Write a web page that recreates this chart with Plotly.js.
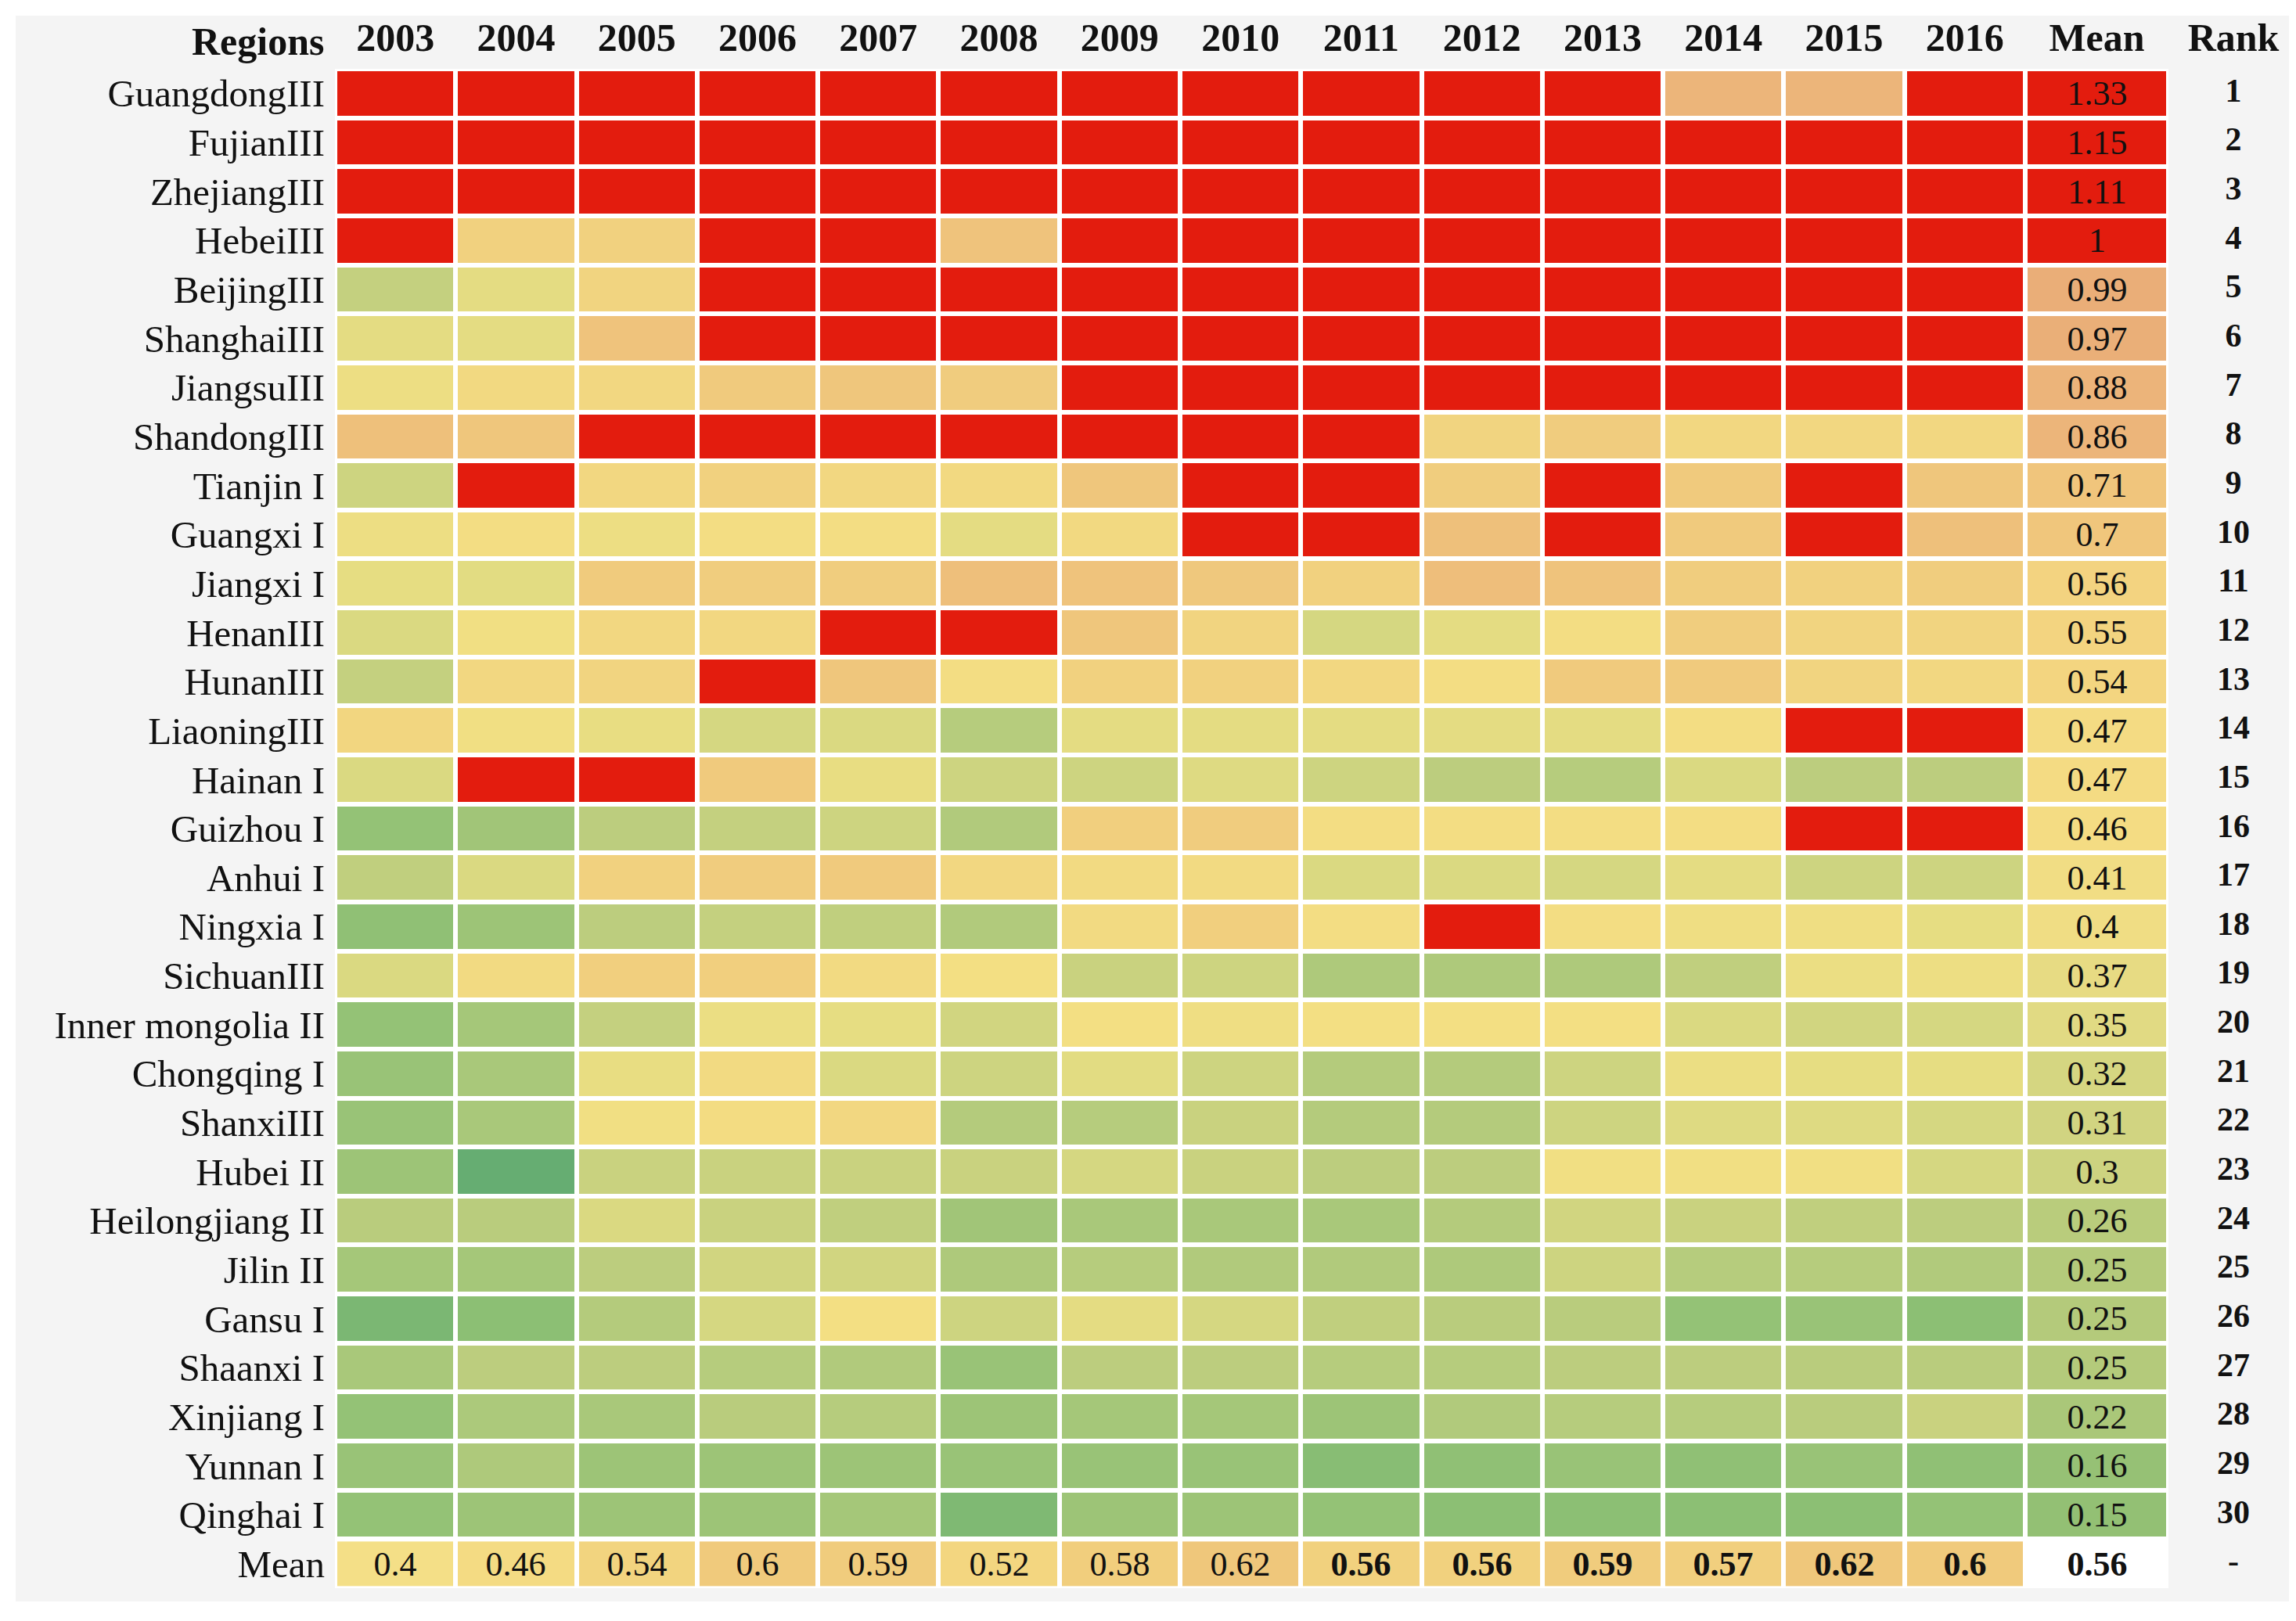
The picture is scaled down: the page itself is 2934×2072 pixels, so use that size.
<!DOCTYPE html>
<html>
<head>
<meta charset="utf-8">
<script src="https://cdn.plot.ly/plotly-3.0.1.min.js"></script>
<style>html,body{margin:0;padding:0;background:#fff;}#chart{width:2934px;height:2072px;}</style>
</head>
<body>
<div id="chart"></div>
<script>
const years = ['2003','2004','2005','2006','2007','2008','2009','2010','2011','2012','2013','2014','2015','2016'];
const regions = ['GuangdongIII','FujianIII','ZhejiangIII','HebeiIII','BeijingIII','ShanghaiIII','JiangsuIII','ShandongIII',
  'Tianjin I','Guangxi I','Jiangxi I','HenanIII','HunanIII','LiaoningIII','Hainan I','Guizhou I','Anhui I','Ningxia I',
  'SichuanIII','Inner mongolia II','Chongqing I','ShanxiIII','Hubei II','Heilongjiang II','Jilin II','Gansu I',
  'Shaanxi I','Xinjiang I','Yunnan I','Qinghai I'];
// yearly values per region (red cells are > 1)
const scores = [
  [1.38,1.41,1.45,1.47,1.44,1.40,1.46,1.49,1.43,1.42,1.41,0.74,0.74,1.38],
  [1.08,1.12,1.10,1.14,1.17,1.13,1.19,1.16,1.18,1.15,1.17,1.14,1.19,1.18],
  [1.06,1.08,1.07,1.10,1.12,1.09,1.13,1.11,1.14,1.12,1.13,1.11,1.14,1.14],
  [1.08,0.53,0.53,1.10,1.12,0.64,1.11,1.13,1.12,1.14,1.12,1.13,1.11,1.14],
  [0.29,0.37,0.51,1.10,1.12,1.13,1.15,1.16,1.15,1.17,1.16,1.18,1.17,1.20],
  [0.37,0.37,0.64,1.06,1.08,1.09,1.10,1.11,1.12,1.11,1.12,1.13,1.14,1.14],
  [0.41,0.48,0.49,0.59,0.62,0.57,1.10,1.12,1.14,1.15,1.16,1.15,1.17,1.17],
  [0.66,0.62,1.12,1.15,1.17,1.18,1.19,1.20,1.20,0.51,0.57,0.49,0.49,0.49],
  [0.31,1.03,0.49,0.53,0.49,0.48,0.62,1.04,1.05,0.56,1.06,0.59,1.07,0.62],
  [0.41,0.45,0.41,0.45,0.45,0.37,0.48,1.18,1.21,0.66,1.23,0.59,1.25,0.66],
  [0.38,0.36,0.58,0.56,0.56,0.67,0.64,0.60,0.53,0.68,0.64,0.56,0.53,0.56],
  [0.34,0.43,0.49,0.49,1.03,1.06,0.62,0.51,0.33,0.37,0.45,0.56,0.51,0.51],
  [0.29,0.49,0.51,1.02,0.62,0.45,0.53,0.53,0.49,0.45,0.59,0.59,0.51,0.49],
  [0.50,0.43,0.39,0.33,0.34,0.25,0.37,0.37,0.37,0.37,0.37,0.45,1.01,1.03],
  [0.34,1.27,1.31,0.59,0.39,0.31,0.31,0.35,0.31,0.27,0.25,0.34,0.27,0.27],
  [0.15,0.18,0.27,0.29,0.31,0.23,0.55,0.57,0.45,0.45,0.45,0.45,1.03,1.06],
  [0.28,0.34,0.53,0.57,0.59,0.49,0.47,0.47,0.34,0.34,0.33,0.37,0.31,0.31],
  [0.14,0.17,0.27,0.29,0.28,0.23,0.47,0.55,0.45,1.08,0.45,0.42,0.42,0.38],
  [0.34,0.47,0.55,0.55,0.47,0.44,0.30,0.31,0.22,0.22,0.22,0.28,0.40,0.41],
  [0.15,0.19,0.29,0.40,0.38,0.32,0.44,0.42,0.44,0.44,0.44,0.34,0.32,0.33],
  [0.16,0.20,0.39,0.47,0.34,0.31,0.36,0.31,0.24,0.24,0.31,0.40,0.38,0.38],
  [0.16,0.20,0.43,0.46,0.49,0.24,0.25,0.30,0.24,0.24,0.31,0.35,0.35,0.33],
  [0.17,0.04,0.30,0.30,0.30,0.30,0.33,0.30,0.27,0.27,0.43,0.43,0.43,0.33],
  [0.26,0.26,0.34,0.30,0.28,0.18,0.20,0.20,0.20,0.24,0.32,0.30,0.28,0.27],
  [0.19,0.19,0.27,0.32,0.32,0.22,0.25,0.23,0.23,0.22,0.31,0.25,0.25,0.23],
  [0.09,0.13,0.24,0.33,0.44,0.31,0.37,0.33,0.28,0.26,0.26,0.15,0.16,0.13],
  [0.20,0.27,0.27,0.25,0.23,0.16,0.27,0.27,0.25,0.25,0.27,0.27,0.26,0.26],
  [0.15,0.21,0.20,0.26,0.25,0.17,0.19,0.19,0.17,0.23,0.25,0.25,0.26,0.30],
  [0.16,0.22,0.17,0.17,0.17,0.16,0.16,0.16,0.12,0.14,0.16,0.14,0.16,0.14],
  [0.15,0.17,0.17,0.17,0.19,0.10,0.17,0.17,0.15,0.13,0.13,0.13,0.13,0.15]
];
const regionMeans = [1.33,1.15,1.11,1,0.99,0.97,0.88,0.86,0.71,0.7,0.56,0.55,0.54,0.47,0.47,0.46,0.41,0.4,0.37,0.35,0.32,0.31,0.3,0.26,0.25,0.25,0.25,0.22,0.16,0.15];
const ranks = ['1','2','3','4','5','6','7','8','9','10','11','12','13','14','15','16','17','18','19','20','21','22','23','24','25','26','27','28','29','30'];
const yearMeans = [0.4,0.46,0.54,0.6,0.59,0.52,0.58,0.62,0.56,0.56,0.59,0.57,0.62,0.6];
const overallMean = 0.56;
const overallRank = '-';
const meanLabel = 'Mean';
const rankLabel = 'Rank';
const headerLabel = 'Regions';

const W = 2934, H = 2072;
const FONT = 'Liberation Serif, Times New Roman, serif';
const px = v => v / W;
const py = v => 1 - v / H;

const gridLeft = 428, gridRight = 2588, meanRight = 2771, gridTop = 88, gridBottom = 2030;
const rowH = (gridBottom - gridTop) / (regions.length + 1);
const regionsBottom = gridBottom - rowH;

const mainScale = [
  [0, '#5eaa6c'], [0.025, '#66ad72'], [0.081, '#8cbf74'], [0.125, '#a9c87a'],
  [0.169, '#bccd7e'], [0.225, '#e2dc82'], [0.275, '#f3df83'], [0.331, '#f1d17f'],
  [0.3875, '#efc67c'], [0.4625, '#ecb57a'], [0.6249, '#e9ad76'], [0.6251, '#e31c0e'], [1, '#e31c0e']
];
const meanColScale = [
  [0, '#8cbd73'], [0.107, '#93c074'], [0.1786, '#b4ca7b'], [0.214, '#cdd380'],
  [0.25, '#e1da83'], [0.2857, '#f0dd84'], [0.3286, '#f4dc83'], [0.393, '#f3d480'],
  [0.5, '#f0c67c'], [0.614, '#ecb57a'], [0.7106, '#eaae78'], [0.7108, '#e31c0e'], [1, '#e31c0e']
];
const meanRowScale = [[0, '#f4df87'], [0.27, '#f4db83'], [0.64, '#f2d47f'], [1, '#efc77b']];

const cellFont = {family: FONT, size: 44, color: '#111'};
const rankFont = {family: FONT, size: 42, color: '#111', weight: 'bold'};

const traces = [
  {
    type: 'heatmap', x: years, y: regions, z: scores,
    zmin: 0, zmax: 1.6, colorscale: mainScale, showscale: false,
    xgap: 6, ygap: 6, xaxis: 'x', yaxis: 'y', hoverinfo: 'skip'
  },
  {
    type: 'heatmap', x: years, y: [meanLabel], z: [yearMeans],
    zmin: 0.4, zmax: 0.62, colorscale: meanRowScale, showscale: false,
    text: [yearMeans.map((v, i) => i >= 8 ? '<b>' + v + '</b>' : String(v))],
    texttemplate: '%{text}', textfont: cellFont,
    xgap: 6, ygap: 6, xaxis: 'x', yaxis: 'y2', hoverinfo: 'skip'
  },
  {
    type: 'heatmap', x: [meanLabel], y: regions, z: regionMeans.map(v => [v]),
    zmin: 0, zmax: 1.4, colorscale: meanColScale, showscale: false,
    text: regionMeans.map(v => [String(v)]), texttemplate: '%{text}', textfont: cellFont,
    xgap: 6, ygap: 6, xaxis: 'x2', yaxis: 'y', hoverinfo: 'skip'
  },
  {
    type: 'heatmap', x: [meanLabel], y: [meanLabel], z: [[overallMean]],
    zmin: 0, zmax: 1, colorscale: [[0, '#ffffff'], [1, '#ffffff']], showscale: false,
    text: [['<b>' + overallMean + '</b>']], texttemplate: '%{text}', textfont: cellFont,
    xgap: 6, ygap: 6, xaxis: 'x2', yaxis: 'y2', hoverinfo: 'skip'
  },
  {
    type: 'scatter', mode: 'text', x: regions.map(() => rankLabel), y: regions,
    text: ranks, textposition: 'middle center', textfont: rankFont,
    xaxis: 'x3', yaxis: 'y', hoverinfo: 'skip', showlegend: false
  },
  {
    type: 'scatter', mode: 'text', x: [rankLabel], y: [meanLabel],
    text: [overallRank], textposition: 'middle center', textfont: rankFont,
    xaxis: 'x3', yaxis: 'y2', hoverinfo: 'skip', showlegend: false
  }
];

const topAxis = {
  side: 'top', anchor: 'y', type: 'category', showgrid: false, zeroline: false, showline: false,
  ticks: '', ticklabelstandoff: 12, fixedrange: true,
  tickfont: {family: FONT, size: 50, color: '#111', weight: 'bold'}
};
const leftAxis = {
  type: 'category', showgrid: false, zeroline: false, showline: false, ticks: '',
  ticklabelstandoff: 12, fixedrange: true, anchor: 'x',
  tickfont: {family: FONT, size: 49, color: '#111'}
};

const layout = {
  width: W, height: H,
  margin: {l: 0, r: 0, t: 0, b: 0, pad: 0},
  paper_bgcolor: '#ffffff', plot_bgcolor: 'rgba(0,0,0,0)',
  showlegend: false,
  xaxis: Object.assign({}, topAxis, {domain: [px(gridLeft), px(gridRight)], categoryarray: years, categoryorder: 'array', range: [-0.5, years.length - 0.5]}),
  xaxis2: Object.assign({}, topAxis, {domain: [px(gridRight), px(meanRight)], categoryarray: [meanLabel], range: [-0.5, 0.5]}),
  xaxis3: Object.assign({}, topAxis, {domain: [px(2774), 1], categoryarray: [rankLabel], range: [-0.5, 0.5]}),
  yaxis: Object.assign({}, leftAxis, {
    domain: [py(regionsBottom), py(gridTop)], categoryarray: regions, categoryorder: 'array',
    range: [regions.length - 0.5, -0.5]
  }),
  yaxis2: Object.assign({}, leftAxis, {
    domain: [py(gridBottom), py(regionsBottom)], categoryarray: [meanLabel], categoryorder: 'array',
    range: [0.5, -0.5]
  }),
  shapes: [
    {type: 'rect', xref: 'paper', yref: 'paper', x0: px(20), x1: px(2925), y0: py(2047), y1: py(20),
     fillcolor: '#f4f4f4', line: {width: 0}, layer: 'below'},
    {type: 'rect', xref: 'paper', yref: 'paper', x0: px(gridLeft), x1: px(meanRight), y0: py(gridBottom), y1: py(gridTop),
     fillcolor: '#ffffff', line: {width: 0}, layer: 'below'}
  ],
  annotations: [
    {text: headerLabel, xref: 'paper', yref: 'paper', x: px(416), y: py(53), xanchor: 'right', yanchor: 'middle',
     showarrow: false, font: {family: FONT, size: 50, color: '#111', weight: 'bold'}}
  ]
};

Plotly.newPlot('chart', traces, layout, {staticPlot: true, displayModeBar: false});
</script>
</body>
</html>
